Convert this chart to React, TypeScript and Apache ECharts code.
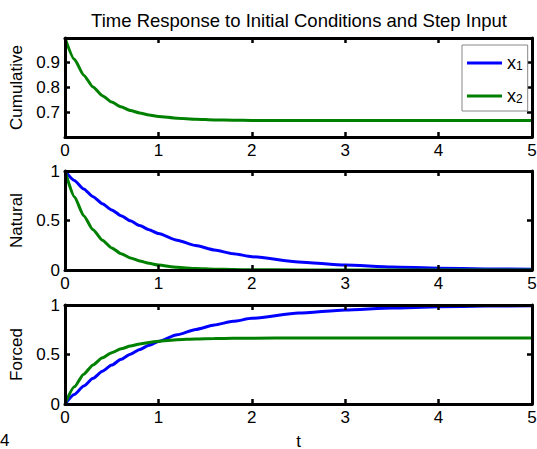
import React, { useEffect, useRef } from "react";
import * as echarts from "echarts";

// time samples (s)
const T = [0, 0.1, 0.2, 0.3, 0.4, 0.5, 0.6, 0.7, 0.8, 0.9, 1.0, 1.2, 1.4, 1.6, 1.8, 2.0, 2.5, 3.0, 3.5, 4.0, 4.5, 5.0];

// Cumulative response
const cumX1 = [1, 1, 1, 1, 1, 1, 1, 1, 1, 1, 1, 1, 1, 1, 1, 1, 1, 1, 1, 1, 1, 1];
const cumX2 = [1.0, 0.914, 0.85, 0.802, 0.767, 0.741, 0.722, 0.707, 0.697, 0.689, 0.683, 0.676, 0.672, 0.669, 0.668, 0.667, 0.667, 0.667, 0.667, 0.667, 0.667, 0.667];

// Natural response
const natX1 = [1.0, 0.905, 0.819, 0.741, 0.67, 0.607, 0.549, 0.497, 0.449, 0.407, 0.368, 0.301, 0.247, 0.202, 0.165, 0.135, 0.082, 0.05, 0.03, 0.018, 0.011, 0.007];
const natX2 = [1.0, 0.741, 0.549, 0.407, 0.301, 0.223, 0.165, 0.122, 0.091, 0.067, 0.05, 0.027, 0.015, 0.008, 0.005, 0.002, 0.001, 0, 0, 0, 0, 0];

// Forced response
const forX1 = [0, 0.095, 0.181, 0.259, 0.33, 0.393, 0.451, 0.503, 0.551, 0.593, 0.632, 0.699, 0.753, 0.798, 0.835, 0.865, 0.918, 0.95, 0.97, 0.982, 0.989, 0.993];
const forX2 = [0, 0.173, 0.301, 0.395, 0.466, 0.518, 0.557, 0.585, 0.606, 0.622, 0.634, 0.649, 0.657, 0.661, 0.663, 0.665, 0.666, 0.667, 0.667, 0.667, 0.667, 0.667];

const panelNames = ["Cumulative", "Natural", "Forced"];
const seriesNames = ["x1", "x2"];
const panelData = [
  [cumX1, cumX2],
  [natX1, natX2],
  [forX1, forX2],
];
const yRanges = [
  { min: 0.6, max: 1.0, interval: 0.1 },
  { min: 0, max: 1, interval: 0.5 },
  { min: 0, max: 1, interval: 0.5 },
];
const xTicks = { min: 0, max: 5, interval: 1 };
const titleText = "Time Response to Initial Conditions and Step Input";
const xName = "t";

const FONT = "'Liberation Sans', Arial, Helvetica, sans-serif";
const COLORS = ["#0000ff", "#008000"];
const GRID_TOPS = [38, 171, 305];
const GRID_H = 99;

export default function App() {
  const ref = useRef<HTMLDivElement>(null);

  useEffect(() => {
    if (!ref.current) return;
    const chart = echarts.init(ref.current, undefined, { renderer: "svg" });

    const axisLine = { show: true, onZero: false, lineStyle: { color: "#000", width: 3 } };
    const axisTick = { show: true, inside: true, length: 5, lineStyle: { color: "#000", width: 2.5 } };
    const labelStyle = { fontSize: 17, color: "#000", fontFamily: FONT };

    const grids: any[] = [];
    const xAxes: any[] = [];
    const yAxes: any[] = [];
    const series: any[] = [];

    GRID_TOPS.forEach((top, i) => {
      grids.push({ left: 65, right: 5, top, height: GRID_H, containLabel: false, outerBoundsMode: "none" });
      const xBase = {
        gridIndex: i,
        type: "value",
        min: xTicks.min,
        max: xTicks.max,
        interval: xTicks.interval,
        splitLine: { show: false },
        axisLine,
        axisTick,
        z: 10,
      };
      xAxes.push({
        ...xBase,
        position: "bottom",
        axisLabel: { ...labelStyle, margin: 5 },
        ...(i === 2
          ? {
              name: xName,
              nameLocation: "middle",
              nameGap: 30,
              nameTextStyle: { ...labelStyle, lineHeight: 14 },
            }
          : {}),
      });
      xAxes.push({ ...xBase, position: "top", axisLabel: { show: false } });

      const yr = yRanges[i];
      const yBase = {
        gridIndex: i,
        type: "value",
        min: yr.min,
        max: yr.max,
        interval: yr.interval,
        splitLine: { show: false },
        axisLine,
        axisTick,
        z: 10,
      };
      yAxes.push({
        ...yBase,
        position: "left",
        axisLabel: {
          ...labelStyle,
          margin: 5,
          showMinLabel: i !== 0,
          showMaxLabel: i !== 0,
          formatter: (v: number) => String(Math.round(v * 10) / 10),
        },
        name: panelNames[i],
        nameLocation: "middle",
        nameGap: 31,
        nameRotate: 90,
        nameTextStyle: { ...labelStyle },
      });
      yAxes.push({ ...yBase, position: "right", axisLabel: { show: false } });

      panelData[i].forEach((vals, k) => {
        // the cumulative x1 trace sits on the top frame edge, hidden under the box line
        const w = i === 0 && k === 0 ? 2 : 3;
        series.push({
          name: seriesNames[k],
          type: "line",
          xAxisIndex: i * 2,
          yAxisIndex: i * 2,
          data: T.map((t, j) => [t, vals[j]]),
          showSymbol: false,
          smooth: 0.2,
          smoothMonotone: "x",
          lineStyle: { color: COLORS[k], width: w },
          itemStyle: { color: COLORS[k] },
          z: 2,
        });
      });
    });

    chart.setOption({
      animation: false,
      backgroundColor: "#fff",
      title: {
        text: titleText,
        left: 294,
        top: 6,
        textAlign: "center",
        textStyle: { fontSize: 18.5, fontWeight: "normal", color: "#000", fontFamily: FONT },
      },
      legend: {
        data: seriesNames,
        orient: "vertical",
        left: 462,
        top: 45,
        padding: [3, 5, 6, 5],
        itemGap: 9,
        itemWidth: 35,
        itemHeight: 3,
        icon: "rect",
        borderColor: "#888",
        borderWidth: 1,
        borderRadius: 0,
        backgroundColor: "#fff",
        z: 20,
        formatter: (name: string) => (name === "x1" ? "{x|x}{s|1}" : "{x|x}{s|2}"),
        textStyle: {
          fontFamily: FONT,
          color: "#000",
          rich: {
            x: { fontSize: 18, lineHeight: 18, verticalAlign: "top", fontFamily: FONT, color: "#000" },
            s: { fontSize: 12, lineHeight: 10, verticalAlign: "bottom", padding: [12, 0, 0, 0], fontFamily: FONT, color: "#000" },
          },
        },
      },
      grid: grids,
      xAxis: xAxes,
      yAxis: yAxes,
      series,
      graphic: [
        {
          type: "text",
          left: 0,
          top: 432,
          style: { text: "4", fontSize: 17, fill: "#000", fontFamily: FONT },
        },
      ],
    });

    return () => chart.dispose();
  }, []);

  return (
    <div
      ref={ref}
      style={{ position: "fixed", left: 0, top: 0, width: 537, height: 449, background: "#fff" }}
    />
  );
}
